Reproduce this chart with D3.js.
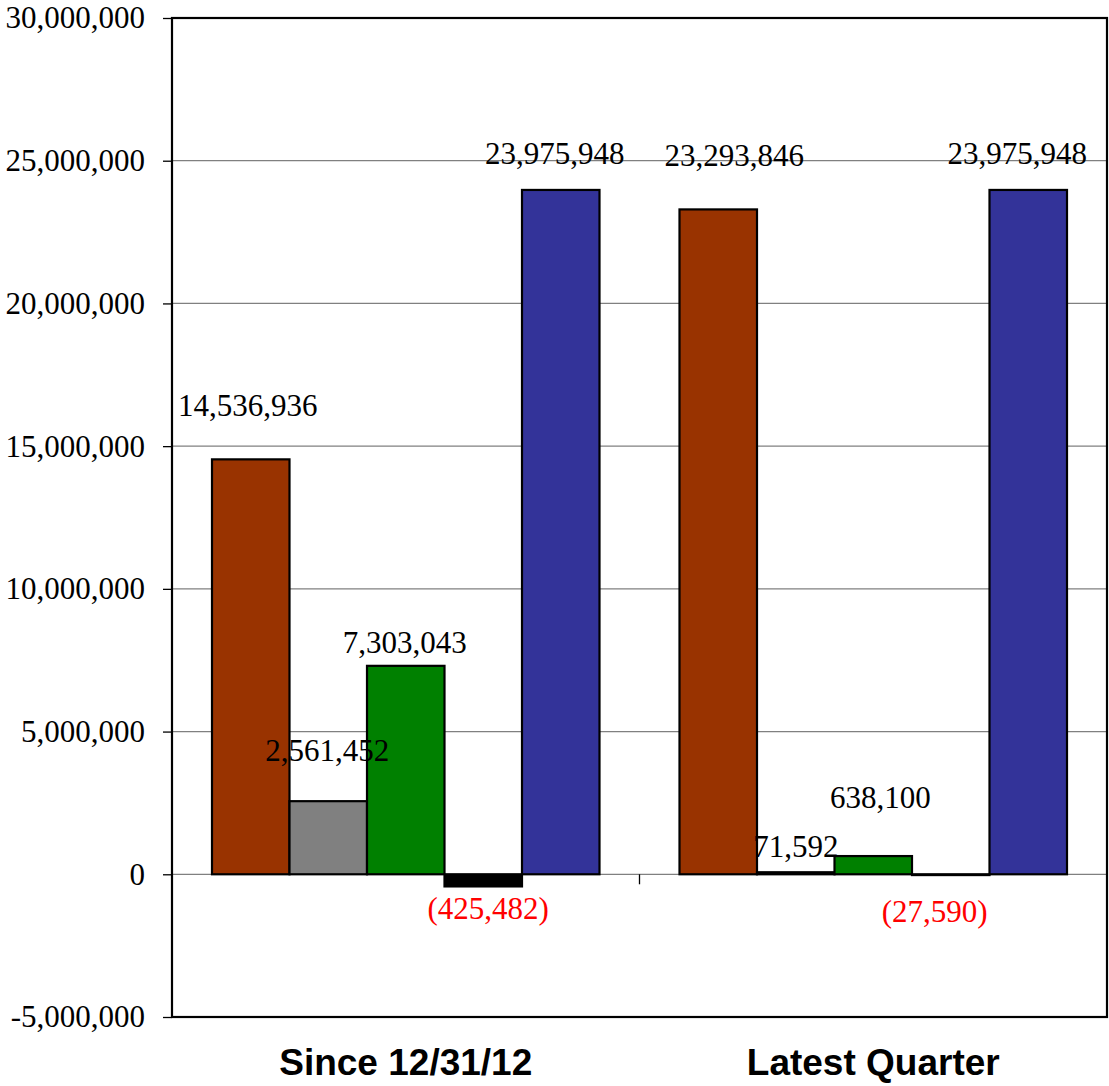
<!DOCTYPE html>
<html>
<head>
<meta charset="utf-8">
<script src="https://cdn.jsdelivr.net/npm/d3@7"></script>
<style>
  html, body { margin: 0; padding: 0; background: #fff; }
  svg { display: block; }
</style>
</head>
<body>
<svg id="chart" width="1109" height="1086"></svg>
<script>
// Period groups along the x axis
const categories = ["Since 12/31/12", "Latest Quarter"];
// Five series drawn side by side within each period
const seriesNames = ["s1", "s2", "s3", "s4", "s5"];
const seriesColors = ["#993300", "#808080", "#008000", "#000000", "#333399"];
const valuesSince = [14536936, 2561452, 7303043, -425482, 23975948];
const valuesLatest = [23293846, 71592, 638100, -27590, 23975948];
const yTicks = [-5000000, 0, 5000000, 10000000, 15000000, 20000000, 25000000, 30000000];

// Per-label nudges (dx, dy in px from the bar end) so labels sit clear of neighbours
const labelNudgeSince = [[-3, -54], [-1, -51], [-1, -23], [5, 22], [-6, -36]];
const labelNudgeLatest = [[16, -54], [0, -26], [7, -59], [-16, 36], [-11, -36]];

const rows = [
  { cat: categories[0], values: valuesSince, nudges: labelNudgeSince },
  { cat: categories[1], values: valuesLatest, nudges: labelNudgeLatest }
];

const svg = d3.select("#chart");
const plot = { left: 172, right: 1107, top: 18, bottom: 1017 };

const y = d3.scaleLinear().domain([-5000000, 30000000]).range([plot.bottom, plot.top]);
const x0 = d3.scaleBand().domain(categories).range([plot.left, plot.right]).padding(0);
const groupPad = 40;
const x1 = d3.scaleBand().domain(seriesNames)
  .range([groupPad, x0.bandwidth() - groupPad]).padding(0);

const comma = d3.format(",");
const fmt = v => (v < 0 ? "-" : "") + comma(Math.abs(v));
const labelText = v => v < 0 ? "(" + comma(-v) + ")" : comma(v);
const serif = "'Liberation Serif', 'Times New Roman', serif";

// Horizontal gridlines
svg.append("g")
  .selectAll("line")
  .data(yTicks.filter(t => t !== 30000000 && t !== -5000000))
  .join("line")
  .attr("x1", plot.left).attr("x2", plot.right)
  .attr("y1", d => y(d)).attr("y2", d => y(d))
  .attr("stroke", "#808080").attr("stroke-width", 1.3);

// Y axis with outside ticks
const yAxis = d3.axisLeft(y).tickValues(yTicks).tickFormat(fmt).tickSize(9).tickPadding(18);
const gy = svg.append("g").attr("transform", `translate(${plot.left},0)`).call(yAxis);
gy.select(".domain").remove();
gy.selectAll(".tick line").attr("stroke", "#000").attr("stroke-width", 1.3);
gy.selectAll(".tick text")
  .attr("fill", "#000")
  .style("font-family", serif)
  .style("font-size", "31px");

// Category divider tick hanging under the zero line
svg.append("g")
  .selectAll("line")
  .data(categories.slice(1))
  .join("line")
  .attr("x1", d => x0(d)).attr("x2", d => x0(d))
  .attr("y1", y(0)).attr("y2", y(0) + 10)
  .attr("stroke", "#000").attr("stroke-width", 1.3);

// Bars
const groups = svg.append("g")
  .selectAll("g")
  .data(rows)
  .join("g")
  .attr("transform", d => `translate(${x0(d.cat)},0)`);

groups.selectAll("rect")
  .data(d => d.values.map((v, i) => ({ v, i, name: seriesNames[i] })))
  .join("rect")
  .attr("x", d => x1(d.name))
  .attr("width", x1.bandwidth())
  .attr("y", d => y(Math.max(0, d.v)))
  .attr("height", d => Math.abs(y(d.v) - y(0)))
  .attr("fill", d => seriesColors[d.i])
  .attr("stroke", "#000")
  .attr("stroke-width", 2.2);

// Value labels
groups.selectAll("text")
  .data(d => d.values.map((v, i) => ({ v, i, name: seriesNames[i], nudge: d.nudges[i] })))
  .join("text")
  .attr("x", d => x1(d.name) + x1.bandwidth() / 2 + d.nudge[0])
  .attr("y", d => y(d.v) + d.nudge[1])
  .attr("text-anchor", "middle")
  .attr("dominant-baseline", "central")
  .attr("fill", d => d.v < 0 ? "#ff0000" : "#000")
  .style("font-family", serif)
  .style("font-size", "31px")
  .text(d => labelText(d.v));

// Plot frame
svg.append("rect")
  .attr("x", plot.left).attr("y", plot.top)
  .attr("width", plot.right - plot.left).attr("height", plot.bottom - plot.top)
  .attr("fill", "none").attr("stroke", "#000").attr("stroke-width", 2.2);

// Category labels
svg.append("g")
  .selectAll("text")
  .data(categories)
  .join("text")
  .attr("x", d => x0(d) + x0.bandwidth() / 2)
  .attr("y", 1062)
  .attr("text-anchor", "middle")
  .attr("dominant-baseline", "central")
  .style("font-family", "'Liberation Sans', Arial, sans-serif")
  .style("font-weight", "bold")
  .style("font-size", "37px")
  .attr("fill", "#000")
  .text(d => d);
</script>
</body>
</html>
